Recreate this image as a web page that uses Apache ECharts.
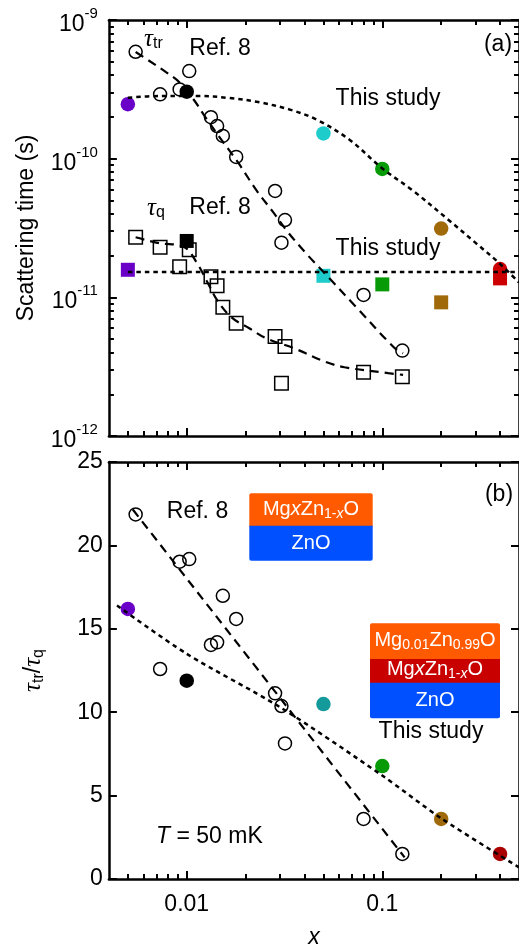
<!DOCTYPE html>
<html><head><meta charset="utf-8">
<script src="https://cdn.jsdelivr.net/npm/echarts@6/dist/echarts.min.js"></script>
<style>html,body{margin:0;padding:0;background:#fff}#c{width:519px;height:951px}</style>
</head><body><div id="c"></div>
<script>
// ---------------- data ----------------
const xMajorTicks = [0.01, 0.1];
const xTickLabels = ['0.01', '0.1'];
const xMinorTicks = [0.005, 0.006, 0.007, 0.008, 0.009, 0.02, 0.03, 0.04, 0.05, 0.06, 0.07, 0.08, 0.09, 0.2, 0.3, 0.4];
const yaMajorTicks = [1e-12, 1e-11, 1e-10, 1e-9];
const yaTickExponents = ['-12', '-11', '-10', '-9'];
const yaMinorTicks = [2e-12, 3e-12, 4e-12, 5e-12, 6e-12, 7e-12, 8e-12, 9e-12,
  2e-11, 3e-11, 4e-11, 5e-11, 6e-11, 7e-11, 8e-11, 9e-11,
  2e-10, 3e-10, 4e-10, 5e-10, 6e-10, 7e-10, 8e-10, 9e-10];
const ybTicks = [0, 5, 10, 15, 20, 25];

// Ref. 8 samples
const refX      = [0.00548, 0.00731, 0.0092, 0.0103, 0.0133, 0.0143, 0.0153, 0.0179, 0.0283, 0.0318, 0.0305, 0.0802, 0.1266];
const refTauTr  = [5.9e-10, 2.91e-10, 3.16e-10, 4.28e-10, 1.99e-10, 1.72e-10, 1.46e-10, 1.03e-10, 5.85e-11, 3.61e-11, 2.48e-11, 1.04e-11, 4.13e-12];
const refTauQ   = [2.71e-11, 2.30e-11, 1.66e-11, 2.20e-11, 1.41e-11, 1.21e-11, 8.49e-12, 6.5e-12, 5.21e-12, 4.42e-12, 2.4e-12, 2.88e-12, 2.68e-12];
const refRatio  = [21.86, 12.59, 19.02, 19.18, 14.03, 14.19, 16.98, 15.59, 11.13, 8.13, 10.37, 3.6, 1.5];

// This study samples
const studyX     = [0.005, 0.01, 0.05, 0.1, 0.2, 0.4];
const studyTauTr = [2.47e-10, 3.04e-10, 1.52e-10, 8.43e-11, 3.13e-11, 1.60e-11];
const studyTauQ  = [1.58e-11, 2.55e-11, 1.43e-11, 1.24e-11, 9.2e-12, 1.37e-11];
const studyRatio = [16.19, 11.89, 10.49, 6.77, 3.6, 1.5];

// guide curves
const fitRefTrX = [0.00548, 0.00645, 0.00768, 0.00914, 0.01089, 0.01223, 0.01456, 0.01837, 0.02265, 0.0276, 0.03286, 0.04147, 0.05233, 0.0742, 0.1141, 0.1276];
const fitRefTrY = [5.88e-10, 5.06e-10, 4.29e-10, 3.57e-10, 2.65e-10, 2.07e-10, 1.458e-10, 9.31e-11, 5.95e-11, 4.13e-11, 2.96e-11, 2.02e-11, 1.426e-11, 8.39e-12, 4.39e-12, 3.95e-12];
const fitRefQX  = [0.00548, 0.00725, 0.00969, 0.01136, 0.01266, 0.01439, 0.01694, 0.02088, 0.02545, 0.03524, 0.05142, 0.06413, 0.1072, 0.1277];
const fitRefQY  = [2.71e-11, 2.455e-11, 2.31e-11, 1.74e-11, 1.313e-11, 9.42e-12, 7.16e-12, 5.99e-12, 5.07e-12, 4.30e-12, 3.42e-12, 3.13e-12, 2.84e-12, 2.76e-12];
const fitStudyTrX = [0.005, 0.0073, 0.0115, 0.0164, 0.0232, 0.034, 0.0466, 0.0684, 0.1, 0.143, 0.219, 0.30, 0.39, 0.5];
const fitStudyTrY = [2.75e-10, 2.83e-10, 2.83e-10, 2.74e-10, 2.56e-10, 2.25e-10, 1.90e-10, 1.36e-10, 8.5e-11, 5.9e-11, 3.6e-11, 2.47e-11, 1.80e-11, 1.28e-11];
const fitStudyQX = [0.005, 0.5];
const fitStudyQY = [1.52e-11, 1.52e-11];
const fitRefRatioX = [0.0053, 0.13];
const fitRefRatioY = [22.15, 1.3];
const fitStudyRatioX = [0.0044, 0.01, 0.03, 0.1, 0.2, 0.5];
const fitStudyRatioY = [16.4, 13.5, 10.3, 6.2, 3.64, 0.7];

// ---------------- styles ----------------
const colorsA = ['#6a00c8', '#000000', '#1ecccc', '#079a07', '#a06a0a', '#cc0000'];
const colorsB = ['#6a00c8', '#000000', '#149a9a', '#079a07', '#a06a0a', '#aa0000'];
const F = '"Liberation Sans", Arial, Helvetica, sans-serif';
const FS = '"Liberation Serif", "Times New Roman", serif';
const L = Math.log10;
const XMIN = L(0.004), XMAX = L(0.5);
const AXW = 2.5, TKW = 2, MAJ = 8, MIN = 5;

function xAx(grid, pos, ticks, len, line, label) {
  const a = {
    type: 'value', gridIndex: grid, position: pos, min: XMIN, max: XMAX,
    axisLine: {show: line, onZero: false, lineStyle: {color: '#000', width: AXW}},
    axisTick: {show: true, inside: true, length: len, customValues: ticks.map(L), lineStyle: {color: '#000', width: TKW}},
    axisLabel: {show: false},
    splitLine: {show: false}
  };
  if (label) {
    a.axisLabel = {
      show: true, margin: 14, fontSize: 23, fontFamily: F, color: '#000',
      customValues: xMajorTicks.map(L),
      formatter: v => {
        const i = xMajorTicks.findIndex(t => Math.abs(L(t) - v) < 1e-6);
        return i >= 0 ? xTickLabels[i] : '';
      }
    };
    a.name = 'x';
    a.nameLocation = 'middle';
    a.nameGap = 47;
    a.nameTextStyle = {fontSize: 23, fontFamily: F, fontStyle: 'italic', color: '#000'};
  }
  return a;
}
function yaAx(pos, ticks, len, line, label) {
  const a = {
    type: 'value', gridIndex: 0, position: pos, min: -12, max: -9,
    axisLine: {show: line, onZero: false, lineStyle: {color: '#000', width: AXW}},
    axisTick: {show: true, inside: true, length: len, customValues: ticks.map(L), lineStyle: {color: '#000', width: TKW}},
    axisLabel: {show: false},
    splitLine: {show: false}
  };
  if (label) {
    a.axisLabel = {
      show: true, margin: 11, customValues: yaMajorTicks.map(L),
      formatter: v => {
        const i = yaMajorTicks.findIndex(t => Math.abs(L(t) - v) < 1e-6);
        return '{b|10}{s|' + yaTickExponents[i] + '}';
      },
      rich: {
        b: {fontSize: 23, fontFamily: F, color: '#000', lineHeight: 24, padding: [9, 0, 0, 0]},
        s: {fontSize: 15, fontFamily: F, color: '#000', lineHeight: 15, padding: [0, 0, 12, 0]}
      }
    };
    a.name = 'Scattering time (s)';
    a.nameLocation = 'middle';
    a.nameRotate = 90;
    a.nameGap = 71;
    a.nameTextStyle = {fontSize: 23, fontFamily: F, color: '#000'};
  }
  return a;
}
function ybAx(pos, label) {
  const a = {
    type: 'value', gridIndex: 1, position: pos, min: 0, max: 25,
    axisLine: {show: true, onZero: false, lineStyle: {color: '#000', width: AXW}},
    axisTick: {show: true, inside: true, length: MAJ, customValues: ybTicks, lineStyle: {color: '#000', width: TKW}},
    axisLabel: {show: false},
    splitLine: {show: false}
  };
  if (label) {
    a.axisLabel = {show: true, margin: 6, fontSize: 23, fontFamily: F, color: '#000', customValues: ybTicks};
    a.name = '{t|τ}{s|tr}{n|/}{t|τ}{s|q}';
    a.nameLocation = 'middle';
    a.nameRotate = 90;
    a.nameGap = 62;
    a.nameTextStyle = {
      color: '#000',
      rich: {
        t: {fontSize: 25, fontFamily: FS, fontStyle: 'italic', color: '#000', lineHeight: 26},
        s: {fontSize: 16, fontFamily: F, color: '#000', lineHeight: 16, padding: [9, 0, 0, 0]},
        n: {fontSize: 23, fontFamily: F, color: '#000', lineHeight: 26}
      }
    };
  }
  return a;
}

const openSym = {color: 'rgba(0,0,0,0)', borderColor: '#000', borderWidth: 1.5, opacity: 1};
function pts(xs, ys, logY) { return xs.map((x, i) => [L(x), logY ? L(ys[i]) : ys[i]]); }
function colored(xs, ys, logY, cols) {
  return xs.map((x, i) => ({value: [L(x), logY ? L(ys[i]) : ys[i]], itemStyle: {color: cols[i], opacity: 1}}));
}
function line(xi, yi, data, dash, w, smooth) {
  return {type: 'line', xAxisIndex: xi, yAxisIndex: yi, data: data, showSymbol: false, symbol: 'none',
    smooth: smooth, z: 5, silent: true,
    lineStyle: {color: '#000', width: w, type: dash, opacity: 1}};
}
const DASH = [9, 6], DOT = [4.5, 4];
const filled = {opacity: 1};

const series = [
  // panel (a)
  {type: 'scatter', xAxisIndex: 0, yAxisIndex: 0, symbol: 'circle', symbolSize: 13, itemStyle: openSym, data: pts(refX, refTauTr, true)},
  {type: 'scatter', xAxisIndex: 0, yAxisIndex: 0, symbol: 'rect', symbolSize: 13.5, itemStyle: openSym, data: pts(refX, refTauQ, true)},
  {type: 'scatter', xAxisIndex: 0, yAxisIndex: 0, symbol: 'rect', symbolSize: 14, itemStyle: filled, data: colored(studyX, studyTauQ, true, colorsA)},
  {type: 'scatter', xAxisIndex: 0, yAxisIndex: 0, symbol: 'circle', symbolSize: 14.5, itemStyle: filled, data: colored(studyX, studyTauTr, true, colorsA)},
  line(0, 0, pts(fitRefTrX, fitRefTrY, true), DASH, 2.2, 0.35),
  line(0, 0, pts(fitRefQX, fitRefQY, true), DASH, 2.2, 0.35),
  line(0, 0, pts(fitStudyTrX, fitStudyTrY, true), DOT, 2.5, 0.35),
  line(0, 0, pts(fitStudyQX, fitStudyQY, true), DOT, 2.5, false),
  // panel (b)
  {type: 'scatter', xAxisIndex: 4, yAxisIndex: 4, symbol: 'circle', symbolSize: 13, itemStyle: openSym, data: pts(refX, refRatio, false)},
  {type: 'scatter', xAxisIndex: 4, yAxisIndex: 4, symbol: 'circle', symbolSize: 14.5, itemStyle: filled, data: colored(studyX, studyRatio, false, colorsB)},
  line(4, 4, pts(fitRefRatioX, fitRefRatioY, false), DASH, 2.2, false),
  line(4, 4, pts(fitStudyRatioX, fitStudyRatioY, false), DOT, 2.5, 0.3)
];

function txt(x, y, text, opts) {
  return Object.assign({type: 'text', x: x, y: y, z: 10, silent: true,
    style: Object.assign({text: text, fontSize: 23, fontFamily: F, fill: '#000',
      align: 'center', verticalAlign: 'middle', textAlign: 'center', textVerticalAlign: 'middle'}, opts || {})});
}
const subR = {
  n: {fontSize: 20, fontFamily: F, fill: '#fff', color: '#fff', lineHeight: 22},
  i: {fontSize: 20, fontFamily: F, fontStyle: 'italic', fill: '#fff', color: '#fff', lineHeight: 22},
  s: {fontSize: 14, fontFamily: F, fill: '#fff', color: '#fff', lineHeight: 14, padding: [10, 0, 0, 0]},
  si: {fontSize: 14, fontFamily: F, fontStyle: 'italic', fill: '#fff', color: '#fff', lineHeight: 14, padding: [10, 0, 0, 0]}
};
const tauR = {
  t: {fontSize: 25, fontFamily: FS, fontStyle: 'italic', fill: '#000', color: '#000', lineHeight: 26},
  s: {fontSize: 16, fontFamily: F, fill: '#000', color: '#000', lineHeight: 16, padding: [9, 0, 0, 0]}
};
const ORANGE = '#ff5a00', BLUE = '#0050ff', DRED = '#c80000';
const graphics = [
  txt(498, 45, '(a)'),
  txt(499, 495, '(b)'),
  txt(144, 39, '{t|τ}{s|tr}', {rich: tauR, align: 'left', textAlign: 'left'}),
  txt(147, 208, '{t|τ}{s|q}', {rich: tauR, align: 'left', textAlign: 'left'}),
  txt(220, 49, 'Ref. 8'),
  txt(220, 207.5, 'Ref. 8'),
  txt(197.5, 512, 'Ref. 8'),
  txt(388, 98.5, 'This study'),
  txt(388, 248.5, 'This study'),
  txt(431, 732, 'This study'),
  txt(156, 836.5, '{i|T}{n| = 50 mK}', {align: 'left', textAlign: 'left', rich: {
    i: {fontSize: 23, fontFamily: F, fontStyle: 'italic', fill: '#000', color: '#000'},
    n: {fontSize: 23, fontFamily: F, fill: '#000', color: '#000'}}}),
  // structure boxes
  {type: 'rect', z: 8, silent: true, shape: {x: 249.3, y: 493.3, width: 123.4, height: 33.4, r: [2, 2, 0, 0]}, style: {fill: ORANGE}},
  {type: 'rect', z: 8, silent: true, shape: {x: 249.3, y: 525.7, width: 123.4, height: 35, r: [0, 0, 2, 2]}, style: {fill: BLUE}},
  txt(311, 509, '{n|Mg}{i|x}{n|Zn}{s|1-}{si|x}{n|O}', {rich: subR, fill: '#fff'}),
  txt(311, 543, 'ZnO', {fontSize: 20, fill: '#fff'}),
  {type: 'rect', z: 8, silent: true, shape: {x: 370, y: 623.3, width: 130, height: 36.2, r: [2, 2, 0, 0]}, style: {fill: ORANGE}},
  {type: 'rect', z: 8, silent: true, shape: {x: 370, y: 659, width: 130, height: 24.2}, style: {fill: DRED}},
  {type: 'rect', z: 8, silent: true, shape: {x: 370, y: 682.7, width: 130, height: 35.6, r: [0, 0, 2, 2]}, style: {fill: BLUE}},
  txt(435, 640, '{n|Mg}{s|0.01}{n|Zn}{s|0.99}{n|O}', {rich: subR, fill: '#fff'}),
  txt(435, 669.5, '{n|Mg}{i|x}{n|Zn}{s|1-}{si|x}{n|O}', {rich: subR, fill: '#fff'}),
  txt(435, 700, 'ZnO', {fontSize: 20, fill: '#fff'})
];

const chart = echarts.init(document.getElementById('c'), null, {renderer: 'canvas'});
chart.setOption({
  animation: false,
  backgroundColor: '#fff',
  grid: [
    {left: 108.9, top: 20, width: 415.2, height: 416, containLabel: false},
    {left: 108.9, top: 462, width: 415.2, height: 417, containLabel: false}
  ],
  xAxis: [
    xAx(0, 'bottom', xMajorTicks, MAJ, true, false),
    xAx(0, 'bottom', xMinorTicks, MIN, false, false),
    xAx(0, 'top', xMajorTicks, MAJ, true, false),
    xAx(0, 'top', xMinorTicks, MIN, false, false),
    xAx(1, 'bottom', xMajorTicks, MAJ, true, true),
    xAx(1, 'bottom', xMinorTicks, MIN, false, false),
    xAx(1, 'top', xMajorTicks, MAJ, true, false),
    xAx(1, 'top', xMinorTicks, MIN, false, false)
  ],
  yAxis: [
    yaAx('left', yaMajorTicks, MAJ, true, true),
    yaAx('left', yaMinorTicks, MIN, false, false),
    yaAx('right', yaMajorTicks, MAJ, true, false),
    yaAx('right', yaMinorTicks, MIN, false, false),
    ybAx('left', true),
    ybAx('right', false)
  ],
  series: series,
  graphic: graphics
});
</script>
</body></html>
